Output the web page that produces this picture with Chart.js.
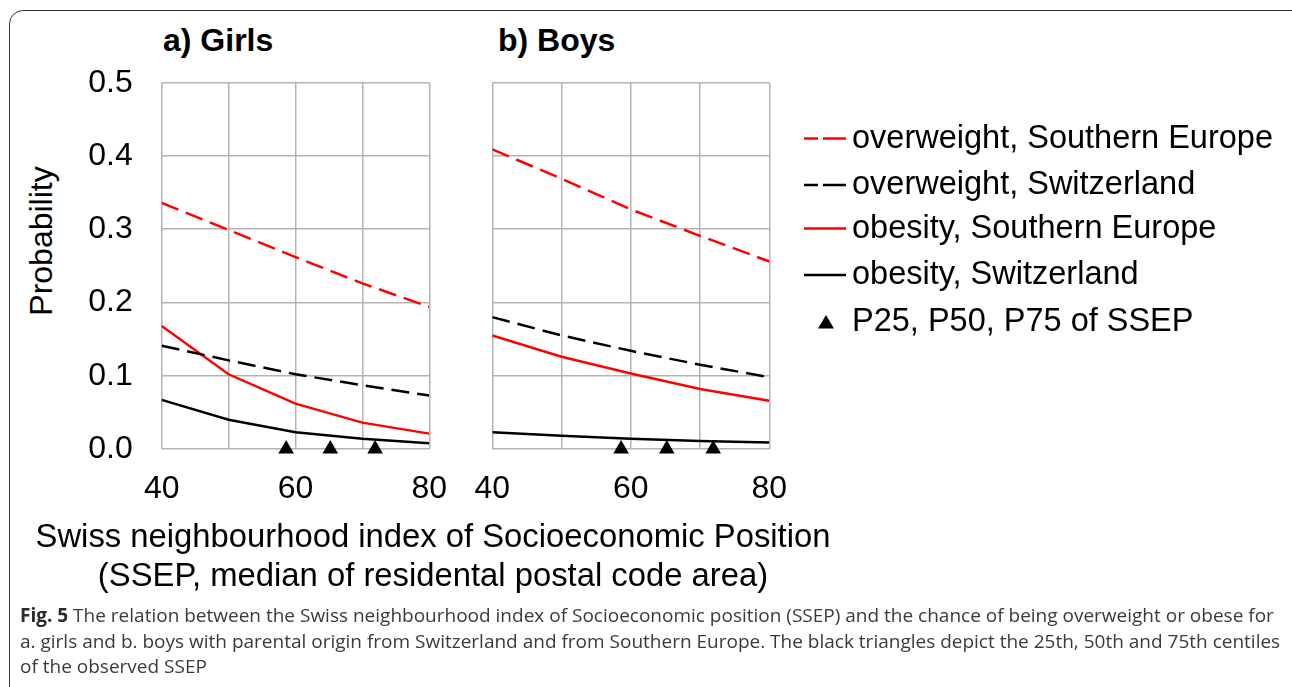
<!DOCTYPE html>
<html>
<head>
<meta charset="utf-8">
<script src="https://cdn.jsdelivr.net/npm/chart.js@4/dist/chart.umd.min.js"></script>
<style>
  body { margin: 0; width: 1292px; height: 687px; overflow: hidden; background: #fff; position: relative; font-family: "Liberation Sans", Arial, sans-serif; }
  .frame { position: absolute; left: 9px; top: 10px; width: 1295px; height: 720px; border: 1.5px solid #333; border-radius: 14px; }
  .abs { position: absolute; white-space: nowrap; }
  .title { font-weight: bold; font-size: 32px; line-height: 40px; color: #000; }
  .leg { font-size: 32.5px; line-height: 40px; color: #000; left: 852px; }
  .xtitle { font-size: 32.8px; line-height: 39px; color: #000; text-align: center; width: 900px; left: -17px; top: 516px; }
  .ytitle { font-size: 32px; line-height: 40px; color: #000; left: 41px; top: 241px; transform: translate(-50%, -50%) rotate(-90deg); }
  .caption { font-family: "Open Sans", sans-serif; font-size: 19px; line-height: 25.5px; color: #3a3a3a; left: 20px; top: 603px; }
  .caption b { color: #2a2a2a; }
</style>
</head>
<body>
<div class="frame"></div>

<div class="abs title" style="left:163px; top:20px;">a) Girls</div>
<div class="abs title" style="left:498px; top:20px;">b) Boys</div>
<div class="abs ytitle">Probability</div>

<div class="abs" style="left:80px; top:60px; width:370px; height:449px;"><canvas id="girls" width="370" height="449"></canvas></div>
<div class="abs" style="left:452px; top:60px; width:338px; height:449px;"><canvas id="boys" width="338" height="449"></canvas></div>

<svg class="abs" style="left:0; top:0;" width="1292" height="687">
  <line x1="804" y1="138.5" x2="846" y2="138.5" stroke="#ff0000" stroke-width="2.5" stroke-dasharray="14 5 30"/>
  <line x1="804" y1="185" x2="846" y2="185" stroke="#000" stroke-width="2.5" stroke-dasharray="14 5 30"/>
  <line x1="804" y1="228.5" x2="846" y2="228.5" stroke="#ff0000" stroke-width="2.5"/>
  <line x1="804" y1="275" x2="846" y2="275" stroke="#000" stroke-width="2.5"/>
  <polygon points="818,328.5 834,328.5 826,315" fill="#000"/>
</svg>
<div class="abs leg" style="top:117px;">overweight, Southern Europe</div>
<div class="abs leg" style="top:163px;">overweight, Switzerland</div>
<div class="abs leg" style="top:207px;">obesity, Southern Europe</div>
<div class="abs leg" style="top:253px;">obesity, Switzerland</div>
<div class="abs leg" style="top:300px;">P25, P50, P75 of SSEP</div>

<div class="abs xtitle">Swiss neighbourhood index of Socioeconomic Position<br>(SSEP, median of residental postal code area)</div>

<div class="abs caption"><b>Fig. 5</b> The relation between the Swiss neighbourhood index of Socioeconomic position (SSEP) and the chance of being overweight or obese for<br>a. girls and b. boys with parental origin from Switzerland and from Southern Europe. The black triangles depict the 25th, 50th and 75th centiles<br>of the observed SSEP</div>

<script>
// SSEP values where the curves were evaluated
const ssep = [40, 50, 60, 70, 80];
const xTickLabels = [40, 60, 80];
const yTicks = [0, 0.1, 0.2, 0.3, 0.4, 0.5];

// girls
const girlsOverSE = [0.336, 0.299, 0.262, 0.226, 0.194];
const girlsOverCH = [0.141, 0.121, 0.102, 0.087, 0.073];
const girlsObeseSE = [0.168, 0.102, 0.062, 0.036, 0.021];
const girlsObeseCH = [0.067, 0.040, 0.023, 0.014, 0.008];

// boys
const boysOverSE = [0.409, 0.369, 0.327, 0.291, 0.256];
const boysOverCH = [0.180, 0.155, 0.134, 0.115, 0.098];
const boysObeseSE = [0.155, 0.126, 0.103, 0.082, 0.066];
const boysObeseCH = [0.023, 0.018, 0.014, 0.011, 0.009];

// P25, P50, P75 of SSEP (triangles)
const ssepCentiles = [58.6, 65.2, 71.9];

const RED = "#ff0000";
const BLACK = "#000000";
const GRID = "#b3b3b3";
const tickFont = { family: "'Liberation Sans', Arial, sans-serif", size: 32 };

function pts(ys) {
  return ssep.map((x, i) => ({ x: x, y: ys[i] }));
}

function lineSet(label, ys, color, dashed) {
  return {
    label: label,
    data: pts(ys),
    borderColor: color,
    borderWidth: 2.5,
    borderDash: dashed ? [18, 8] : [],
    pointRadius: 0,
    tension: 0,
    fill: false
  };
}

// no extra room for label overhang, the layout padding already covers it
function noPad(s) {
  s.paddingLeft = 0;
  s.paddingRight = 0;
  s.paddingTop = 0;
  s.paddingBottom = 0;
}

function makePanel(id, series, showY, padLeft) {
  const datasets = [
    lineSet("overweight, Southern Europe", series[0], RED, true),
    lineSet("overweight, Switzerland", series[1], BLACK, true),
    lineSet("obesity, Southern Europe", series[2], RED, false),
    lineSet("obesity, Switzerland", series[3], BLACK, false),
    {
      label: "P25, P50, P75 of SSEP",
      data: ssepCentiles.map(x => ({ x: x, y: 0 })),
      showLine: false,
      pointStyle: "triangle",
      pointRadius: 9,
      pointBorderWidth: 0,
      pointBackgroundColor: BLACK,
      clip: false
    }
  ];

  new Chart(document.getElementById(id), {
    type: "line",
    data: { datasets: datasets },
    options: {
      responsive: false,
      animation: false,
      layout: { padding: { top: 22.7, right: 20.7, bottom: 0, left: padLeft } },
      plugins: { legend: { display: false }, tooltip: { enabled: false } },
      scales: {
        x: {
          type: "linear",
          min: 40,
          max: 80,
          grid: { color: GRID, lineWidth: 1.5, drawTicks: false },
          border: { display: false },
          ticks: {
            stepSize: 10,
            autoSkip: false,
            maxRotation: 0,
            color: BLACK,
            font: tickFont,
            padding: 21,
            callback: v => (xTickLabels.includes(v) ? String(v) : "")
          },
          afterFit: s => { s.height = 60; noPad(s); }
        },
        y: {
          min: 0,
          max: 0.5,
          grid: { color: GRID, lineWidth: 1.5, drawTicks: false },
          border: { display: false },
          ticks: {
            display: showY,
            stepSize: 0.1,
            color: BLACK,
            font: tickFont,
            padding: 29,
            callback: v => (yTicks.some(t => Math.abs(t - v) < 1e-9) ? v.toFixed(1) : "")
          },
          afterFit: s => { s.width = showY ? 81.7 : 0; noPad(s); }
        }
      }
    }
  });
}

makePanel("girls", [girlsOverSE, girlsOverCH, girlsObeseSE, girlsObeseCH], true, 0);
makePanel("boys", [boysOverSE, boysOverCH, boysObeseSE, boysObeseCH], false, 40.3);
</script>
</body>
</html>
